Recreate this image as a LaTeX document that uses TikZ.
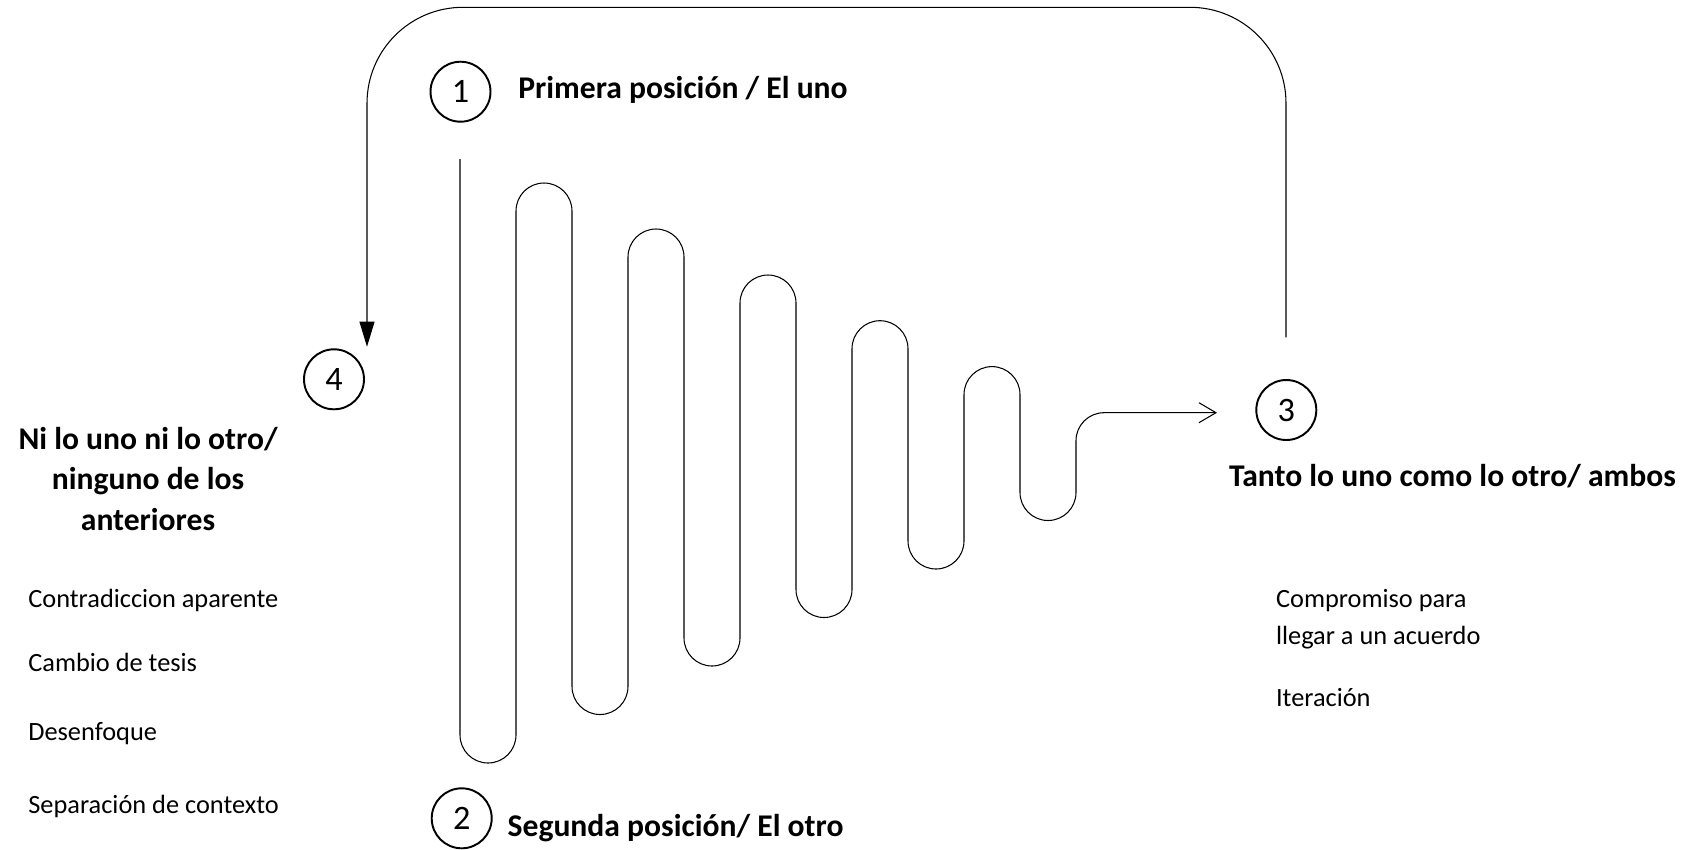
\documentclass[tikz,border=0pt]{standalone}
\usepackage{fontspec}
\setmainfont{Carlito}
\usetikzlibrary{arrows.meta}
\begin{document}
\begin{tikzpicture}[x=0.02cm, y=-0.02cm,
  num/.style={circle, draw, line width=1.1pt, minimum size=1.2cm, inner sep=0pt, font=\fontsize{19.5}{22}\selectfont},
  head/.style={font=\fontsize{18}{22.8}\selectfont\bfseries, inner sep=0pt},
  item/.style={font=\fontsize{15}{21}\selectfont, inner sep=0pt, anchor=base west, align=left},
  thin line/.style={line width=0.6pt}]
\useasboundingbox (0,0) rectangle (1690,849);
% numbered circles
\node[num] (n1) at (460.5,91.7) {1};
\node[num] (n2) at (461.7,818.3) {2};
\node[num] (n3) at (1286.3,410) {3};
\node[num] (n4) at (334,379.3) {4};
% headings
\node[head, anchor=base west] (t1) at (518,98.3) {Primera posición / El uno};
\node[head, anchor=base west] (t2) at (507.3,836.7) {Segunda posición/ El otro};
\node[head, anchor=base west] (t3) at (1228.7,486.7) {Tanto lo uno como lo otro/ ambos};
\node[head, align=center, anchor=base] (t4) at (148,530) {Ni lo uno ni lo otro/\\ninguno de los\\anteriores};
% left items
\node[item] (l1) at (28,607) {Contradiccion aparente};
\node[item] (l2) at (28,671.7) {Cambio de tesis};
\node[item] (l3) at (28,740.7) {Desenfoque};
\node[item] (l4) at (28,813) {Separación de contexto};
% right items
\node[item] (r1) at (1275.7,644) {Compromiso para\\llegar a un acuerdo};
\node[item] (r2) at (1275.7,706) {Iteración};
% zigzag path
\coordinate (zs) at (460,159);
\coordinate (ze) at (1217,412.7);
\draw[thin line, rounded corners=0.56cm, -{Straight Barb[length=0.34cm,width=0.4cm]}]
  (zs) -- (460,763) -- (516,763) -- (516,183) -- (572,183) -- (572,714.5) -- (628,714.5)
  -- (628,229) -- (684,229) -- (684,666) -- (740,666) -- (740,275) -- (796,275)
  -- (796,617.5) -- (852,617.5) -- (852,320.7) -- (908,320.7) -- (908,569) -- (964,569)
  -- (964,366.6) -- (1020,366.6) -- (1020,520.5) -- (1076,520.5) -- (1076,412.7) -- (ze);
% big return loop
\coordinate (ls) at (1286,337.3);
\coordinate (le) at (367,346.7);
\draw[thin line, rounded corners=1.92cm, -{Triangle[length=0.5cm,width=0.3cm]}]
  (ls) -- (1286,7.3) -- (367,7.3) -- (le);
\end{tikzpicture}
\end{document}
